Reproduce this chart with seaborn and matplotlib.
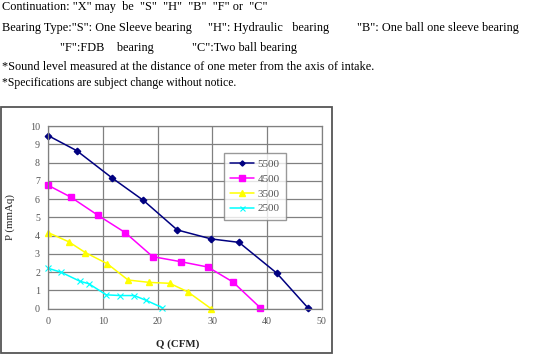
import matplotlib
matplotlib.use("Agg")
import matplotlib.pyplot as plt
import seaborn as sns
import pandas as pd
from matplotlib.patches import Rectangle

sns.set_theme(style="white")
plt.rcParams['font.family'] = ['Liberation Serif', 'DejaVu Serif']

# ---- data ----
speeds = ["5500", "4500", "3500", "2500"]
q_5500 = [0, 5.2, 11.7, 17.4, 23.6, 29.8, 34.9, 41.8, 47.5]
p_5500 = [9.47, 8.65, 7.15, 5.93, 4.31, 3.82, 3.63, 1.95, 0.05]
q_4500 = [0, 4.1, 9.1, 14.1, 19.1, 24.3, 29.2, 33.8, 38.8]
p_4500 = [6.75, 6.11, 5.11, 4.16, 2.85, 2.57, 2.28, 1.46, 0.05]
q_3500 = [0, 3.7, 6.8, 10.8, 14.6, 18.5, 22.2, 25.5, 29.8]
p_3500 = [4.16, 3.67, 3.07, 2.46, 1.57, 1.44, 1.39, 0.93, 0.0]
q_2500 = [0, 2.4, 5.8, 7.4, 10.6, 13.1, 15.7, 17.9, 20.9]
p_2500 = [2.21, 1.99, 1.50, 1.37, 0.76, 0.72, 0.72, 0.46, 0.05]

xticks = [0, 10, 20, 30, 40, 50]
yticks = list(range(0, 11))

colors = {"5500": "#000080", "4500": "#FF00FF", "3500": "#FFFF00", "2500": "#00FFFF"}
markers = {"5500": "D", "4500": "s", "3500": "^", "2500": "x"}
msizes = {"5500": 3.3, "4500": 4.6, "3500": 4.8, "2500": 4.5}

df = pd.concat([
    pd.DataFrame({"Q": q, "P": p, "speed": s})
    for s, q, p in zip(speeds, [q_5500, q_4500, q_3500, q_2500],
                       [p_5500, p_4500, p_3500, p_2500])
], ignore_index=True)

fig = plt.figure(figsize=(5.56, 3.60), dpi=100)

# header text
hdr = dict(fontsize=8.85, color="black", va="center", ha="left",
           family=['Liberation Serif'])
def fy(py):
    return 1 - py / 360.0
def fx(px):
    return px / 556.0
fig.text(fx(2), fy(7), 'Continuation: "X" may  be  "S"  "H"  "B"  "F" or  "C"', **hdr)
fig.text(fx(2), fy(28), 'Bearing Type:"S": One Sleeve bearing', **hdr)
fig.text(fx(208), fy(28), '"H": Hydraulic   bearing', **hdr)
fig.text(fx(357), fy(28), '"B": One ball one sleeve bearing', **hdr)
fig.text(fx(60), fy(48), '"F":FDB    bearing', **hdr)
fig.text(fx(192), fy(48), '"C":Two ball bearing', **hdr)
fig.text(fx(2), fy(67), '*Sound level measured at the distance of one meter from the axis of intake.', **hdr)
hdr5 = dict(hdr); hdr5["fontsize"] = 8.4
fig.text(fx(2), fy(83), '*Specifications are subject change without notice.', **hdr5)

# outer frame
fig.patches.append(Rectangle((fx(1), fy(353)), fx(331), 246 / 360.0,
                             transform=fig.transFigure, fill=False,
                             edgecolor="#555555", linewidth=1.3))

ax = fig.add_axes([fx(48.3), fy(308.7), fx(321.5) - fx(48.3), fy(126) - fy(308.7)])

for s in speeds:
    sub = df[df["speed"] == s]
    sns.lineplot(data=sub, x="Q", y="P", ax=ax, color=colors[s],
                 marker=markers[s], markersize=msizes[s],
                 markeredgecolor=colors[s], markerfacecolor=colors[s],
                 markeredgewidth=1.0 if s != "2500" else 0.8,
                 linewidth=1.1, sort=False, estimator=None, label=s,
                 legend=False, clip_on=False)

ax.set_xlim(0, 50)
ax.set_ylim(0, 10)
ax.set_xticks(xticks)
ax.set_yticks(yticks)
ax.set_xticklabels([str(v) for v in xticks])
ax.set_yticklabels([str(v) for v in yticks])
ax.grid(True, color="#808080", linewidth=0.9)
ax.set_axisbelow(True)
for sp in ax.spines.values():
    sp.set_color("#808080")
    sp.set_linewidth(0.9)
ax.tick_params(axis="both", length=0, labelsize=7.2, labelcolor="#555555", pad=6)
ax.set_xlabel("Q (CFM)", fontsize=7.8, fontweight="bold", color="#222222")
ax.set_ylabel("P (mmAq)", fontsize=7.8, color="#222222")
ax.xaxis.set_label_coords(0.475, -0.166)
ax.yaxis.set_label_coords(-0.122, 0.5)

handles = ax.get_lines()
leg = ax.legend(handles=handles[:4], labels=speeds, loc="upper left",
                bbox_to_anchor=(0.642, 0.851), frameon=True, fancybox=False,
                shadow=False, fontsize=8, labelcolor="#555555",
                handlelength=2.2, handletextpad=0.3, labelspacing=0.45,
                borderpad=0.55, borderaxespad=0, markerscale=0.8)
leg.get_frame().set_edgecolor("#808080")
leg.get_frame().set_linewidth(1.0)

fig.savefig("out.png", dpi=100)
